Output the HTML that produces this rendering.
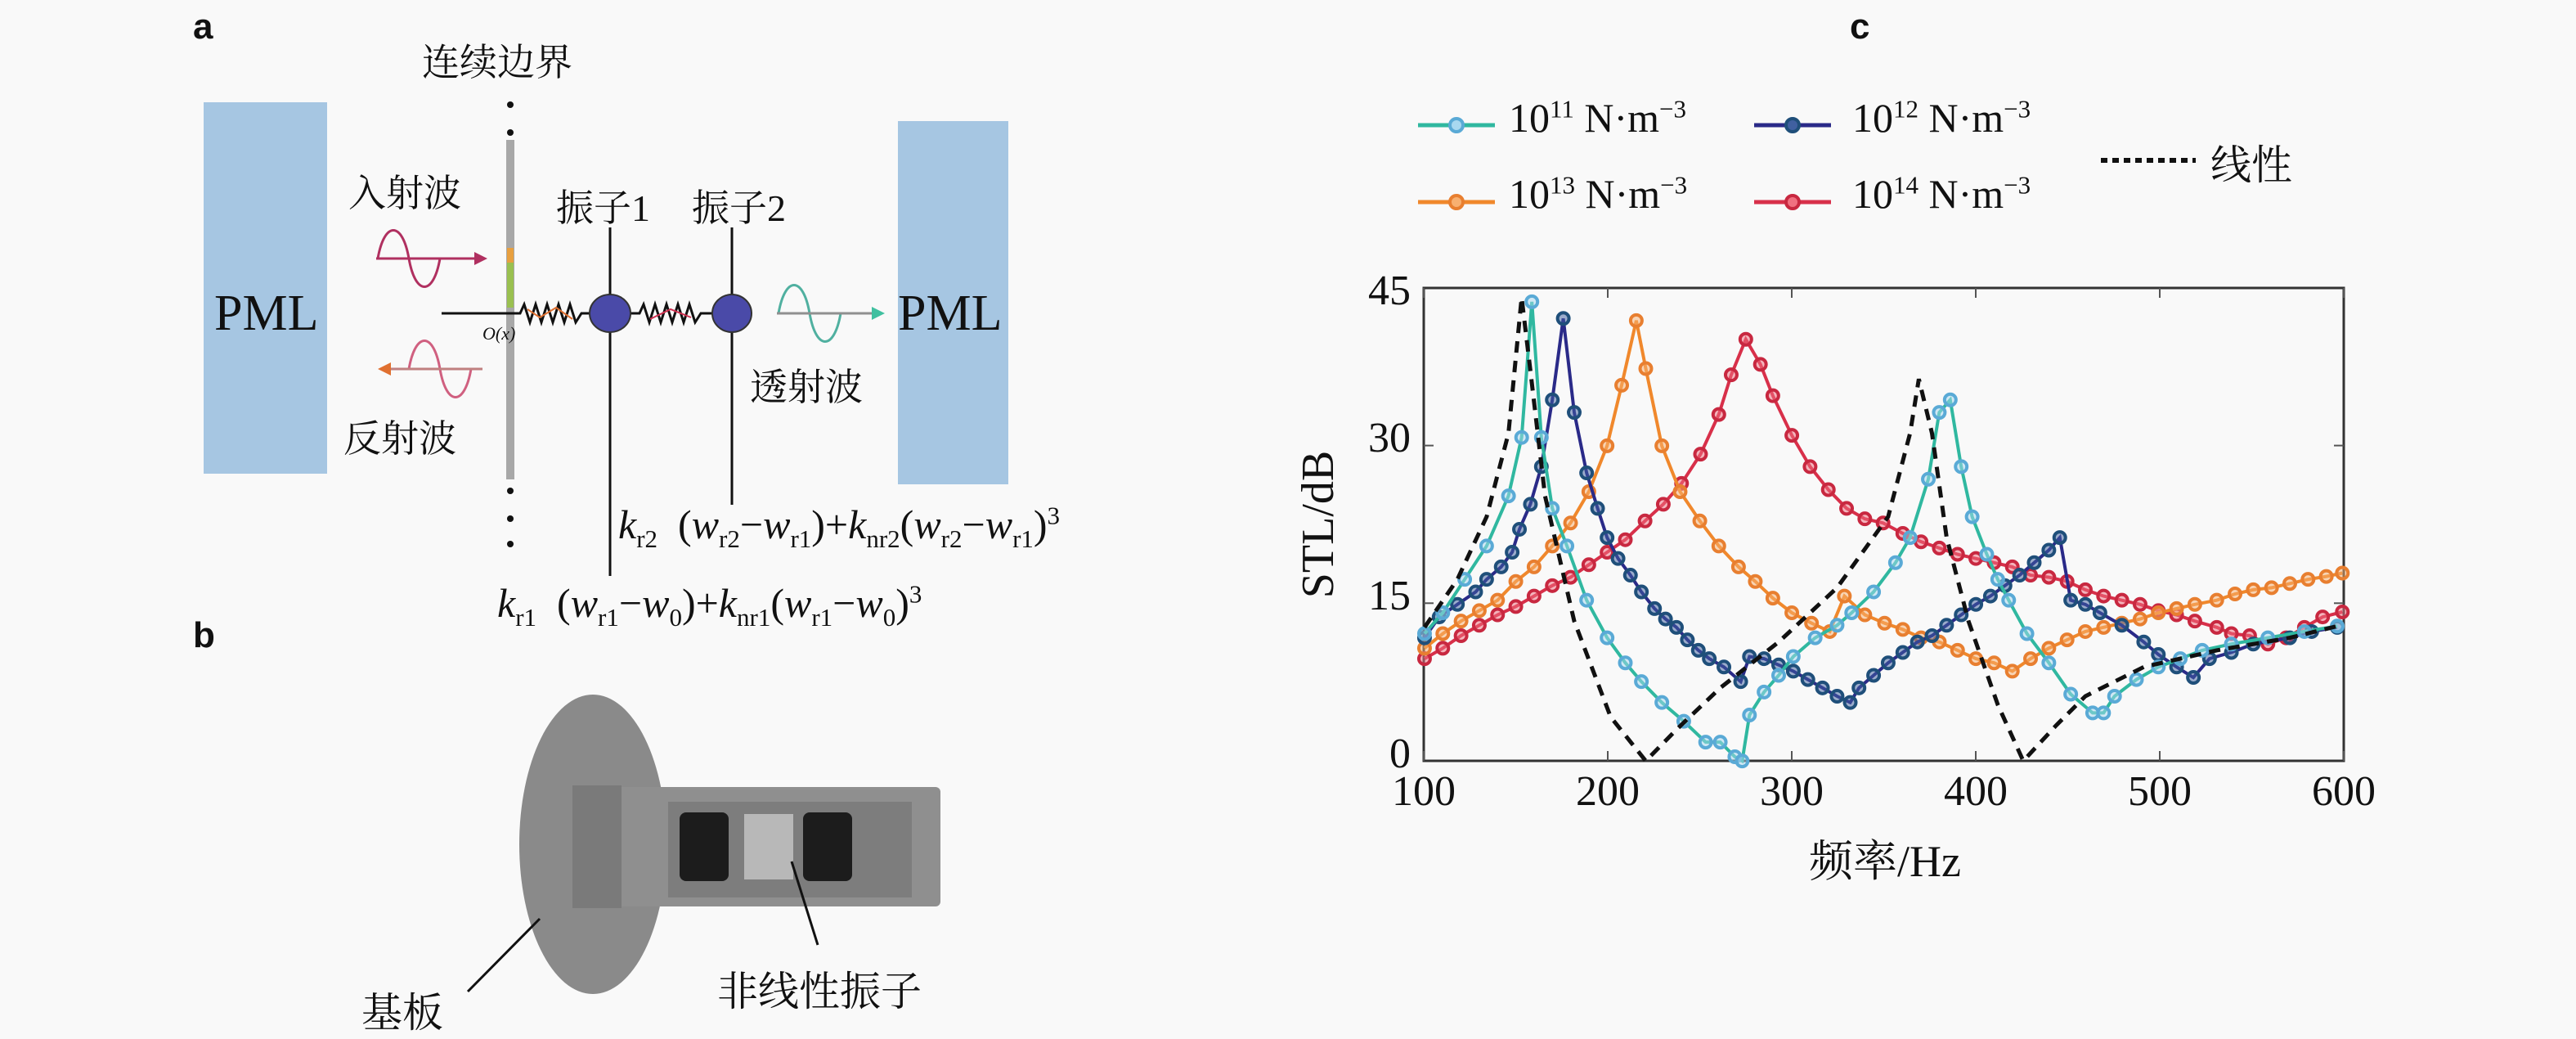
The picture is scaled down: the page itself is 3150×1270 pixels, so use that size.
<!DOCTYPE html>
<html><head><meta charset="utf-8">
<style>
html,body{margin:0;padding:0;background:#f9f9f9;}
body{width:3150px;height:1255px;position:relative;overflow:hidden;font-family:"Liberation Serif","Noto Serif CJK SC",serif;}
.t{position:absolute;white-space:nowrap;color:#111;}
.cj{font-family:"Liberation Serif","Noto Serif CJK SC","Noto Sans CJK SC",serif;}
.lab{position:absolute;font-family:"Liberation Sans",sans-serif;font-weight:bold;font-size:44px;color:#111;}
.f{font-size:50px;font-style:italic;}
.f .u{font-style:normal;}
sub,sup{font-size:62%;}
</style></head><body>
<svg id="svg" width="3150" height="1255" style="position:absolute;left:0;top:0">
 <!-- panel a -->
 <rect x="249" y="125" width="151" height="454" fill="#a6c6e2"/>
 <rect x="1098" y="148" width="135" height="444" fill="#a6c6e2"/>
 <rect x="619" y="171" width="10" height="415" fill="#a8a8a8"/>
 <rect x="620" y="303" width="8" height="18" fill="#e8a040"/>
 <rect x="620" y="321" width="8" height="55" fill="#9ac050"/>
 <g fill="#111"><circle cx="624" cy="128" r="4"/><circle cx="624" cy="162" r="4"/><circle cx="624" cy="600" r="4"/><circle cx="624" cy="634" r="4"/><circle cx="624" cy="665" r="4"/></g>
 <line x1="540" y1="383" x2="624" y2="383" stroke="#111" stroke-width="3"/>
 <polyline fill="none" stroke="#111" stroke-width="3" points="624,383 636,383 641,372 648,394 655,372 662,394 669,372 676,394 683,372 690,394 697,372 704,394 711,383 722,383"/>
 <polyline fill="none" stroke="#e07030" stroke-width="2" points="645,378 660,388 680,376 700,390"/>
 <polyline fill="none" stroke="#111" stroke-width="3" points="770,383 782,383 787,372 794,394 801,372 808,394 815,372 822,394 829,372 836,394 843,372 850,394 857,383 872,383"/>
 <polyline fill="none" stroke="#d03050" stroke-width="2" points="795,390 820,378 845,388"/>
 <line x1="746" y1="278" x2="746" y2="704" stroke="#111" stroke-width="3"/>
 <line x1="895" y1="278" x2="895" y2="617" stroke="#111" stroke-width="3"/>
 <ellipse cx="746" cy="383" rx="25" ry="23" fill="#4a4aa8" stroke="#333" stroke-width="2"/>
 <ellipse cx="895" cy="383" rx="24" ry="23" fill="#4a4aa8" stroke="#333" stroke-width="2"/>
 <!-- waves -->
 <path d="M462,316 C470,270 492,270 500,316 C508,362 530,362 538,316" fill="none" stroke="#b03060" stroke-width="3"/>
 <line x1="460" y1="316" x2="580" y2="316" stroke="#b03060" stroke-width="3"/>
 <polygon points="580,308 596,316 580,324" fill="#b03060"/>
 <path d="M500,451 C508,405 530,405 538,451 C546,497 568,497 576,451" fill="none" stroke="#d06080" stroke-width="3"/>
 <line x1="478" y1="451" x2="590" y2="451" stroke="#c08080" stroke-width="3"/>
 <polygon points="478,443 462,451 478,459" fill="#e07030"/>
 <path d="M952,383 C960,337 982,337 990,383 C998,429 1020,429 1028,383" fill="none" stroke="#50b0a0" stroke-width="3"/>
 <line x1="950" y1="383" x2="1066" y2="383" stroke="#909090" stroke-width="3"/>
 <polygon points="1066,375 1082,383 1066,391" fill="#40c0a0"/>
 <!-- panel b -->
 <ellipse cx="725" cy="1032" rx="90" ry="183" fill="#8a8a8a"/>
 <rect x="719" y="962" width="431" height="146" rx="6" fill="#8f8f8f"/>
 <rect x="817" y="980" width="298" height="117" fill="#7d7d7d"/>
 <rect x="700" y="960" width="60" height="150" fill="#7a7a7a"/>
 <rect x="831" y="993" width="60" height="84" rx="8" fill="#1c1c1c"/>
 <rect x="982" y="993" width="60" height="84" rx="8" fill="#1c1c1c"/>
 <rect x="910" y="995" width="60" height="80" fill="#b8b8b8"/>
 <line x1="660" y1="1123" x2="572" y2="1212" stroke="#111" stroke-width="3"/>
 <line x1="968" y1="1053" x2="1000" y2="1155" stroke="#111" stroke-width="3"/>
 <!-- panel c axes -->
 <rect x="1741" y="352" width="1125" height="578" fill="none" stroke="#333" stroke-width="3"/>
 <g id="ticks" stroke="#555" stroke-width="2"></g>
 <g id="series"></g>
 <g id="legend"></g>
</svg>

<div class="lab" style="left:236px;top:8px">a</div>
<div class="lab" style="left:236px;top:752px">b</div>
<div class="lab" style="left:2262px;top:8px">c</div>

<div class="t cj" style="left:516px;top:40px;font-size:46px">连续边界</div>
<div class="t cj" style="left:426px;top:200px;font-size:46px">入射波</div>
<div class="t cj" style="left:420px;top:500px;font-size:46px">反射波</div>
<div class="t cj" style="left:917px;top:437px;font-size:46px">透射波</div>
<div class="t cj" style="left:680px;top:218px;font-size:46px">振子1</div>
<div class="t cj" style="left:846px;top:218px;font-size:46px">振子2</div>
<div class="t" style="left:262px;top:348px;font-size:62px">PML</div>
<div class="t" style="left:1098px;top:348px;font-size:62px">PML</div>
<div class="t" style="left:590px;top:395px;font-size:22px;font-style:italic">O(x)</div>
<div class="t f" style="left:756px;top:612px"><span>k</span><sub class="u">r2</sub>&nbsp; <span class="u">(</span>w<sub class="u">r2</sub><span class="u">−</span>w<sub class="u">r1</sub><span class="u">)+</span>k<sub class="u">nr2</sub><span class="u">(</span>w<sub class="u">r2</sub><span class="u">−</span>w<sub class="u">r1</sub><span class="u">)</span><sup class="u">3</sup></div>
<div class="t f" style="left:608px;top:708px"><span>k</span><sub class="u">r1</sub>&nbsp; <span class="u">(</span>w<sub class="u">r1</sub><span class="u">−</span>w<sub class="u">0</sub><span class="u">)+</span>k<sub class="u">nr1</sub><span class="u">(</span>w<sub class="u">r1</sub><span class="u">−</span>w<sub class="u">0</sub><span class="u">)</span><sup class="u">3</sup></div>
<div class="t cj" style="left:442px;top:1198px;font-size:50px">基板</div>
<div class="t cj" style="left:877px;top:1172px;font-size:50px">非线性振子</div>

<!-- chart labels -->
<div class="t" style="left:1650px;top:326px;font-size:52px;width:75px;text-align:right">45</div>
<div class="t" style="left:1650px;top:506px;font-size:52px;width:75px;text-align:right">30</div>
<div class="t" style="left:1650px;top:699px;font-size:52px;width:75px;text-align:right">15</div>
<div class="t" style="left:1650px;top:892px;font-size:52px;width:75px;text-align:right">0</div>
<div id="xl"></div>
<div class="t cj" style="left:2212px;top:1010px;font-size:54px">频率/Hz</div>
<div class="t" style="left:1612px;top:641px;font-size:56px;transform:translate(-50%,-50%) rotate(-90deg)">STL/dB</div>
<div class="t" style="left:1845px;top:115px;font-size:50px">10<sup>11</sup> N·m<sup>−3</sup></div>
<div class="t" style="left:2265px;top:115px;font-size:50px">10<sup>12</sup> N·m<sup>−3</sup></div>
<div class="t" style="left:1845px;top:208px;font-size:50px">10<sup>13</sup> N·m<sup>−3</sup></div>
<div class="t" style="left:2265px;top:208px;font-size:50px">10<sup>14</sup> N·m<sup>−3</sup></div>
<div class="t cj" style="left:2703px;top:162px;font-size:50px">线性</div>

<script>
var NS="http://www.w3.org/2000/svg";
function el(p,n,a){var e=document.createElementNS(NS,n);for(var k in a)e.setAttribute(k,a[k]);p.appendChild(e);return e;}
// zoom coords -> page
function X(zx){return 1550+zx/1.12;}
function Y(zy){return 300+zy/1.96;}
var ticks=document.getElementById('ticks');
var xl=document.getElementById('xl');
for(var i=0;i<=5;i++){var x=1741+i*225;
 el(ticks,'line',{x1:x,y1:930,x2:x,y2:918});el(ticks,'line',{x1:x,y1:352,x2:x,y2:364});
 var d=document.createElement('div');d.className='t';d.style.cssText='left:'+(x-60)+'px;top:938px;width:120px;text-align:center;font-size:52px';d.textContent=(100+i*100);xl.appendChild(d);}
for(var j=1;j<3;j++){var y=930-j*192.7;el(ticks,'line',{x1:1741,y1:y,x2:1753,y2:y});el(ticks,'line',{x1:2866,y1:y,x2:2854,y2:y});}
var S=document.getElementById('series');
function pl(pts,attrs){var s=pts.map(function(p){return X(p[0]).toFixed(1)+','+Y(p[1]).toFixed(1)}).join(' ');attrs.points=s;attrs.fill='none';el(S,'polyline',attrs);}
function mk(pts,col,fill){pts.forEach(function(p){el(S,'circle',{cx:X(p[0]),cy:Y(p[1]),r:7,fill:fill,stroke:col,'stroke-width':4,'fill-opacity':0.5});});}
var lin=[[215,915],[260,800],[300,650],[330,450],[348,125],[360,300],[380,600],[420,900],[470,1130],[518,1235],[560,1160],[620,1060],[700,950],[780,820],[850,650],[880,450],[892,320],[910,450],[930,700],[960,900],[1000,1100],[1035,1235],[1080,1150],[1120,1080],[1200,1010],[1300,970],[1400,940],[1470,910]];
var c11=[[215,930],[240,880],[270,800],[300,720],[330,600],[348,460],[362,135],[375,460],[390,630],[410,720],[437,850],[465,940],[490,1000],[512,1045],[540,1095],[570,1140],[600,1190],[620,1190],[640,1225],[650,1235],[660,1125],[680,1070],[700,1030],[720,985],[750,940],[780,910],[800,880],[830,830],[860,760],[880,700],[905,560],[920,400],[935,370],[950,530],[965,650],[985,740],[1000,800],[1015,850],[1040,930],[1070,1000],[1100,1075],[1130,1120],[1145,1120],[1160,1080],[1190,1040],[1220,1010],[1250,990],[1280,970],[1320,955],[1370,940],[1420,925],[1465,912]];
var c12=[[215,940],[235,890],[260,860],[285,830],[300,800],[320,770],[335,735],[345,680],[360,620],[375,530],[390,370],[405,175],[420,400],[437,545],[452,630],[465,700],[480,750],[497,790],[512,830],[530,870],[545,895],[560,915],[575,945],[590,970],[605,990],[625,1010],[648,1045],[660,985],[680,990],[700,1005],[720,1020],[740,1040],[760,1060],[780,1080],[798,1095],[810,1060],[830,1030],[850,1000],[870,975],[890,950],[910,935],[930,910],[950,885],[970,860],[990,840],[1010,815],[1030,790],[1050,760],[1070,730],[1085,700],[1100,850],[1120,860],[1140,880],[1170,910],[1200,950],[1220,980],[1245,1010],[1268,1035],[1290,990],[1320,975],[1350,955],[1400,940],[1430,925],[1465,915]];
var c13=[[215,965],[240,930],[265,900],[290,875],[315,850],[340,805],[365,770],[390,720],[415,665],[440,590],[465,480],[485,335],[505,180],[518,295],[540,480],[565,590],[592,660],[618,720],[645,770],[668,805],[692,845],[718,880],[745,905],[770,925],[790,840],[818,885],[845,905],[870,920],[895,940],[920,950],[945,970],[970,990],[995,1000],[1020,1020],[1045,990],[1070,965],[1095,945],[1120,925],[1145,915],[1170,905],[1195,895],[1220,880],[1245,870],[1270,860],[1300,850],[1325,835],[1350,825],[1375,820],[1400,810],[1425,800],[1450,793],[1472,785]];
var c14=[[215,990],[240,965],[265,935],[290,910],[315,885],[340,865],[365,840],[390,815],[415,795],[440,765],[465,735],[490,705],[517,660],[542,620],[567,570],[593,500],[618,405],[635,310],[655,225],[675,285],[692,360],[718,455],[743,530],[768,585],[793,630],[818,655],[843,665],[870,690],[895,710],[920,725],[945,740],[970,750],[995,760],[1020,770],[1045,790],[1070,795],[1095,805],[1120,825],[1145,840],[1170,850],[1195,860],[1220,875],[1245,885],[1270,900],[1300,915],[1320,930],[1345,935],[1370,955],[1395,940],[1420,915],[1445,890],[1472,878]];
pl(c14,{stroke:'#d8304a','stroke-width':4});mk(c14,'#c82840','#f07080');
pl(c13,{stroke:'#f0882c','stroke-width':4});mk(c13,'#e87f30','#f8b070');
pl(c12,{stroke:'#2a2a88','stroke-width':4});mk(c12,'#1f4f7a','#4060a0');
pl(c11,{stroke:'#30b8a0','stroke-width':4});mk(c11,'#5aaad6','#a8d8f0');
pl(lin,{stroke:'#111','stroke-width':5,'stroke-dasharray':'14,10'});
var L=document.getElementById('legend');
function leg(x1,y,col,mc,fc){el(L,'line',{x1:x1,y1:y,x2:x1+94,y2:y,stroke:col,'stroke-width':5});el(L,'circle',{cx:x1+47,cy:y,r:8,fill:fc,stroke:mc,'stroke-width':4});}
leg(1734,153,'#30b8a0','#5aaad6','#a8d8f0');
leg(2145,153,'#2a2a88','#1f4f7a','#4060a0');
leg(1734,247,'#f0882c','#e87f30','#f8b070');
leg(2145,247,'#d8304a','#c82840','#f07080');
el(L,'line',{x1:2569,y1:196,x2:2685,y2:196,stroke:'#111','stroke-width':6,'stroke-dasharray':'8,6'});
</script>
</body></html>
